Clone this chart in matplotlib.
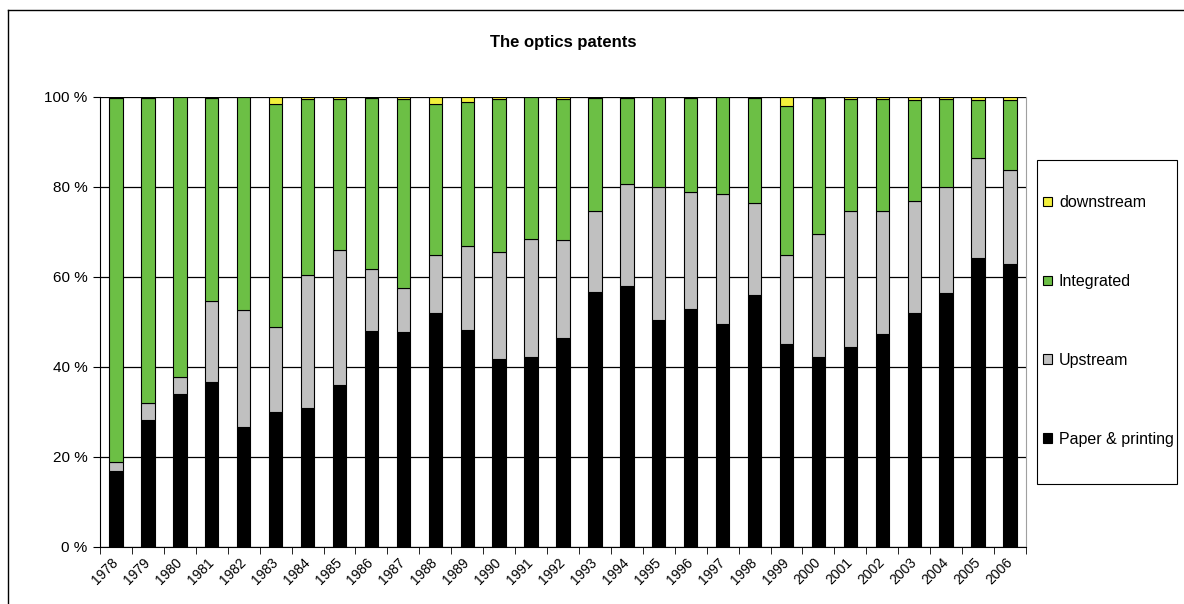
import matplotlib
matplotlib.use("Agg")
import matplotlib.pyplot as plt
import numpy as np
from matplotlib.patches import Rectangle
from matplotlib.lines import Line2D
from matplotlib.ticker import FixedLocator
import matplotlib.transforms as mtransforms

plt.rcParams['font.family'] = ['Liberation Sans', 'DejaVu Sans']

years = [str(y) for y in range(1978, 2007)]
paper = [17.0, 28.2, 33.9, 36.7, 26.6, 29.9, 30.8, 35.9, 48.0, 47.7,
         51.9, 48.2, 41.8, 42.3, 46.4, 56.7, 58.1, 50.4, 53.0, 49.5,
         55.9, 45.2, 42.2, 44.5, 47.4, 51.9, 56.4, 64.3, 62.8]
upstream = [1.8, 3.9, 3.8, 18.0, 26.1, 19.1, 29.6, 30.1, 13.7, 9.8,
            13.1, 18.8, 23.8, 26.1, 21.8, 18.0, 22.5, 29.7, 26.0, 28.9,
            20.5, 19.8, 27.4, 30.2, 27.3, 25.0, 23.6, 22.2, 20.9]
integrated = [81.0, 67.6, 62.3, 45.0, 47.3, 49.4, 39.2, 33.6, 38.1, 42.0,
              33.4, 32.0, 34.0, 31.6, 31.4, 25.1, 19.2, 19.9, 20.8, 21.6,
              23.4, 33.1, 30.2, 24.9, 24.9, 22.4, 19.6, 12.8, 15.6]
downstream = [round(100 - p - u - i, 1) for p, u, i in zip(paper, upstream, integrated)]

series = [("Paper & printing", paper, "#000000"),
          ("Upstream", upstream, "#C0C0C0"),
          ("Integrated", integrated, "#6CBF45"),
          ("downstream", downstream, "#F2F03C")]

fig = plt.figure(figsize=(11.84, 6.04), dpi=100)
ax = fig.add_axes([100/1184, 1-547/604, (1026-100)/1184, (547-97)/604])

x = np.arange(len(years))
bottom = np.zeros(len(years))
handles = []
for name, vals, col in series:
    b = ax.bar(x, vals, width=0.42, bottom=bottom, color=col,
               edgecolor="black", linewidth=0.8, label=name, zorder=3)
    handles.append(b)
    bottom += np.array(vals)

ax.set_xlim(-0.5, len(years) - 0.5)
ax.set_ylim(0, 100)
ax.set_yticks([0, 20, 40, 60, 80, 100])
ax.set_yticklabels([f"{v} %" for v in [0, 20, 40, 60, 80, 100]], fontsize=11)
ax.yaxis.grid(True, color="#000000", linewidth=0.9, zorder=0)
ax.set_axisbelow(True)

ax.set_xticks(x)
ax.set_xticklabels(years, rotation=45, ha="right", rotation_mode="anchor", fontsize=10)
ax.tick_params(axis="x", which="major", length=0, pad=6)
offset = mtransforms.ScaledTranslation(-5/100, 0, fig.dpi_scale_trans)
for lbl in ax.get_xticklabels():
    lbl.set_transform(lbl.get_transform() + offset)
ax.xaxis.set_minor_locator(FixedLocator(np.arange(-0.5, len(years), 1.0)))
ax.tick_params(axis="x", which="minor", length=5, direction="out", color="black")
ax.tick_params(axis="y", length=5, direction="out", pad=4)

ax.spines["top"].set_visible(False)
ax.spines["right"].set_color("#A0A0A0")
ax.spines["left"].set_color("black")
ax.spines["bottom"].set_color("black")

fig.text(563/1184, 1-42/604, "The optics patents", ha="center", va="center",
         fontsize=12, fontweight="bold")

# legend frame
fig.patches.append(Rectangle((1037/1184, 1-484/604), (1177-1037)/1184, (484-160)/604,
                             transform=fig.transFigure, fill=False,
                             edgecolor="black", linewidth=0.8))
leg = fig.legend(handles[::-1], [s[0] for s in series][::-1],
                 loc="center left", bbox_to_anchor=(1043/1184, 1-321/604),
                 fontsize=11.5, frameon=False,
                 labelspacing=4.0, handlelength=0.55, handleheight=0.55,
                 handletextpad=0.45, borderpad=0.0, borderaxespad=0)

# outer chart border (left and top only visible)
fig.add_artist(Line2D([8/1184, 8/1184], [0, 1-10/604], transform=fig.transFigure,
                      color="black", linewidth=1.0))
fig.add_artist(Line2D([8/1184, 1], [1-10/604, 1-10/604], transform=fig.transFigure,
                      color="black", linewidth=1.0))

fig.savefig("out.png", dpi=100)
